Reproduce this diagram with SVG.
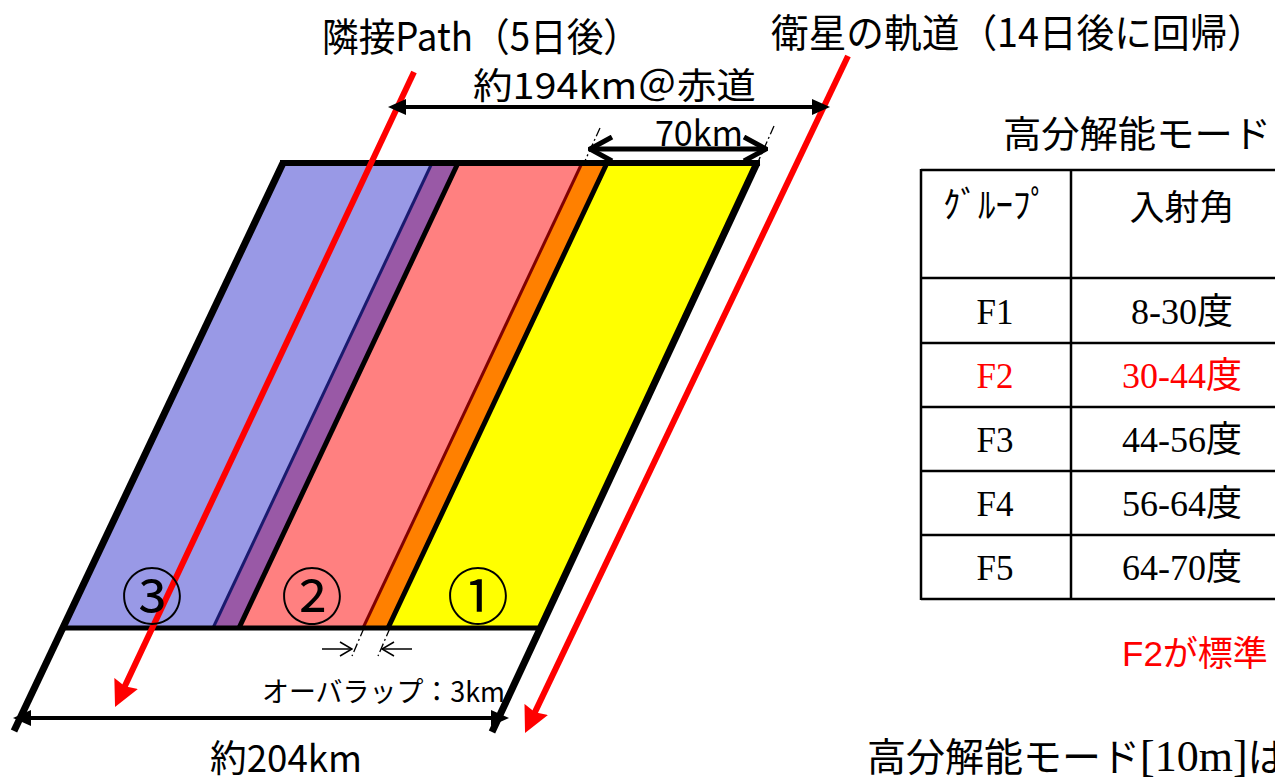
<svg xmlns="http://www.w3.org/2000/svg" width="1275" height="781" viewBox="0 0 1275 781">
<style>
.jp{font-family:"Noto Sans CJK JP","Liberation Sans",sans-serif;fill:#000}
.tm{font-family:"Liberation Serif","Noto Sans CJK JP",serif;fill:#000}
.blk{stroke:#000;fill:none}
.red{stroke:#FF0000;stroke-width:6;fill:none}
.dash{stroke:#000;stroke-width:1.3;fill:none;stroke-dasharray:9,3,2,3}
.tl{stroke:#000;stroke-width:2.5;fill:none}
</style>
<defs>
<marker id="redHead" viewBox="0 0 26 26" refX="4" refY="13" markerWidth="26" markerHeight="26" markerUnits="userSpaceOnUse" orient="auto">
<path d="M0,0 L26,13 L0,26 L3,13 z" fill="#FF0000"/>
</marker>
<marker id="blkHead" viewBox="0 0 18 18" refX="3" refY="9" markerWidth="18" markerHeight="18" markerUnits="userSpaceOnUse" orient="auto-start-reverse">
<path d="M0,1 L18,9 L0,17 z" fill="#000"/>
</marker>
<marker id="openHead" viewBox="0 0 26 28" refX="24" refY="14" markerWidth="26" markerHeight="28" markerUnits="userSpaceOnUse" orient="auto-start-reverse">
<path d="M2,2 L24,14 L2,26" fill="none" stroke="#000" stroke-width="5"/>
</marker>
<marker id="thinHead" viewBox="0 0 14 16" refX="13" refY="8" markerWidth="14" markerHeight="16" markerUnits="userSpaceOnUse" orient="auto">
<path d="M1,1 L13,8 L1,15" fill="none" stroke="#000" stroke-width="1.5"/>
</marker>
</defs>

<g id="swath">
<polygon id="band3" points="283,163 432,163 213,628 64,628" fill="#9999E6"/>
<polygon id="overlap23" points="432,163 458,163 239,628 213,628" fill="#9959A6"/>
<polygon id="band2" points="458,163 582,163 363,628 239,628" fill="#FF8080"/>
<polygon id="overlap12" points="582,163 607,163 388,628 363,628" fill="#FF8000"/>
<polygon id="band1" points="607,163 757,163 538,628 388,628" fill="#FFFF00"/>
<line x1="432" y1="163" x2="213" y2="628" stroke="#1A1A6E" stroke-width="3"/>
<line x1="458" y1="163" x2="239" y2="628" class="blk" stroke-width="5"/>
<line x1="582" y1="163" x2="363" y2="628" stroke="#800000" stroke-width="3"/>
<line x1="607" y1="163" x2="388" y2="628" class="blk" stroke-width="5"/>
<line x1="280" y1="163" x2="760" y2="163" class="blk" stroke-width="6"/>
<line x1="64" y1="628" x2="538" y2="628" class="blk" stroke-width="5"/>
<line x1="283" y1="163" x2="14" y2="731" class="blk" stroke-width="7"/>
<line x1="757" y1="163" x2="492" y2="732" class="blk" stroke-width="7"/>
</g>

<g id="connectors">
<line class="red" x1="414" y1="72" x2="124.4" y2="687.1" marker-end="url(#redHead)"/>
<line class="red" x1="848" y1="56" x2="534.5" y2="713.1" marker-end="url(#redHead)"/>
<line x1="403" y1="107" x2="815" y2="107" class="blk" stroke-width="4" marker-start="url(#blkHead)" marker-end="url(#blkHead)"/>
<line x1="28" y1="718" x2="494" y2="718" class="blk" stroke-width="4" marker-start="url(#blkHead)" marker-end="url(#blkHead)"/>
<line x1="590" y1="149" x2="766" y2="149" class="blk" stroke-width="5" marker-start="url(#openHead)" marker-end="url(#openHead)"/>
<line class="dash" x1="600" y1="128" x2="584" y2="163"/>
<line class="dash" x1="774" y1="126" x2="758" y2="162"/>
<line class="dash" x1="364" y1="628" x2="352" y2="656"/>
<line class="dash" x1="390" y1="628" x2="378" y2="656"/>
<line x1="322" y1="649" x2="352" y2="649" stroke="#000" stroke-width="1.5" marker-end="url(#thinHead)"/>
<line x1="412" y1="649" x2="382" y2="649" stroke="#000" stroke-width="1.5" marker-end="url(#thinHead)"/>
</g>

<g id="labels">
<text id="adjPath" class="jp" x="322" y="51" font-size="39" textLength="318" lengthAdjust="spacingAndGlyphs">隣接Path（5日後）</text>
<text id="orbit" class="jp" x="771" y="47" font-size="39" textLength="494" lengthAdjust="spacingAndGlyphs">衛星の軌道（14日後に回帰）</text>
<text id="w194" class="jp" x="473" y="99" font-size="36" textLength="283" lengthAdjust="spacingAndGlyphs">約194km＠赤道</text>
<text id="w70" class="jp" x="655" y="146" font-size="35" textLength="88" lengthAdjust="spacingAndGlyphs">70km</text>
<text id="w204" class="jp" x="210" y="772" font-size="37" textLength="152" lengthAdjust="spacingAndGlyphs">約204km</text>
<text id="ovl" class="jp" x="262" y="702" font-size="28" textLength="243" lengthAdjust="spacingAndGlyphs">オーバラップ：3km</text>
<text id="n3" class="jp" x="152" y="620" font-size="62" text-anchor="middle">③</text>
<text id="n2" class="jp" x="312" y="620" font-size="62" text-anchor="middle">②</text>
<text id="n1" class="jp" x="478" y="620" font-size="62" text-anchor="middle">①</text>
<text id="modeTitle" class="jp" x="1003" y="148" font-size="37" textLength="268" lengthAdjust="spacingAndGlyphs">高分解能モード</text>
<text id="std" x="1122" y="666" font-size="35" fill="#FF0000" font-family="Liberation Sans,'Noto Sans CJK JP',sans-serif">F2<tspan font-family="Noto Sans CJK JP,sans-serif">が標準</tspan></text>
<text id="note" class="jp" x="867" y="771" font-size="39">高分解能モード<tspan font-family="Liberation Serif,serif" font-size="44">[10m]</tspan>は</text>
</g>

<g id="table">
<line class="tl" x1="921" y1="170" x2="1280" y2="170"/>
<line class="tl" x1="921" y1="278" x2="1280" y2="278"/>
<line class="tl" x1="921" y1="343" x2="1280" y2="343"/>
<line class="tl" x1="921" y1="407" x2="1280" y2="407"/>
<line class="tl" x1="921" y1="471" x2="1280" y2="471"/>
<line class="tl" x1="921" y1="535" x2="1280" y2="535"/>
<line class="tl" x1="921" y1="599" x2="1280" y2="599"/>
<line class="tl" x1="921" y1="169" x2="921" y2="600"/>
<line class="tl" x1="1071" y1="169" x2="1071" y2="600"/>
<text class="jp" x="943" y="218" font-size="36" textLength="105" lengthAdjust="spacingAndGlyphs">ｸﾞﾙｰﾌﾟ</text>
<text class="jp" x="1182" y="220" font-size="35" text-anchor="middle">入射角</text>
<text class="tm" x="995" y="324" font-size="35" text-anchor="middle">F1</text>
<text class="tm" x="1182" y="324" font-size="36" text-anchor="middle">8-30度</text>
<text class="tm" x="995" y="388" font-size="35" text-anchor="middle" style="fill:#FF0000">F2</text>
<text class="tm" x="1182" y="388" font-size="36" text-anchor="middle" style="fill:#FF0000">30-44度</text>
<text class="tm" x="995" y="452" font-size="35" text-anchor="middle">F3</text>
<text class="tm" x="1182" y="452" font-size="36" text-anchor="middle">44-56度</text>
<text class="tm" x="995" y="516" font-size="35" text-anchor="middle">F4</text>
<text class="tm" x="1182" y="516" font-size="36" text-anchor="middle">56-64度</text>
<text class="tm" x="995" y="580" font-size="35" text-anchor="middle">F5</text>
<text class="tm" x="1182" y="580" font-size="36" text-anchor="middle">64-70度</text>
</g>
</svg>
